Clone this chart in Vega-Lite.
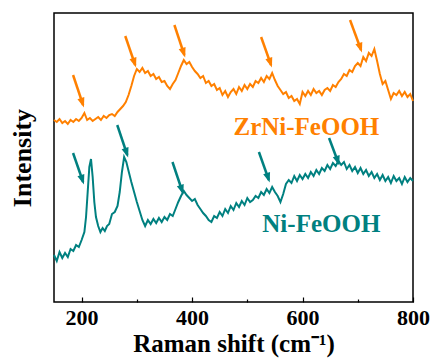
{
  "$schema": "https://vega.github.io/schema/vega-lite/v6.json",
  "width": 359,
  "height": 289,
  "autosize": {"type": "none"},
  "padding": {"left": 54, "top": 13, "right": 19, "bottom": 61},
  "background": "white",
  "config": {
    "view": {"stroke": "black", "strokeWidth": 1.5},
    "font": "Times New Roman, Liberation Serif, serif",
    "axis": {"grid": false, "labelFont": "Times New Roman, Liberation Serif, serif", "titleFont": "Times New Roman, Liberation Serif, serif", "labelColor": "black", "titleColor": "black", "labelFontWeight": "bold", "titleFontWeight": "bold"}
  },
  "datasets": {
    "zr": [
      {"x":150,"y":182},{"x":155,"y":180},{"x":160,"y":183},{"x":165,"y":179},{"x":170,"y":181},{"x":175,"y":178},{"x":180,"y":182},{"x":185,"y":180},{"x":190,"y":183},{"x":195,"y":181},
      {"x":200,"y":184},{"x":205,"y":189},{"x":210,"y":182},{"x":215,"y":184},{"x":220,"y":181},{"x":225,"y":183},{"x":230,"y":185},{"x":235,"y":182},{"x":240,"y":186},{"x":245,"y":184},
      {"x":250,"y":187},{"x":255,"y":188},{"x":260,"y":186},{"x":265,"y":190},{"x":270,"y":193},{"x":275,"y":196},{"x":280,"y":200},{"x":285,"y":207},{"x":290,"y":216},{"x":295,"y":226},
      {"x":300,"y":233},{"x":305,"y":230},{"x":310,"y":234},{"x":315,"y":229},{"x":320,"y":231},{"x":325,"y":226},{"x":330,"y":228},{"x":335,"y":223},{"x":340,"y":225},{"x":345,"y":220},
      {"x":350,"y":221},{"x":355,"y":216},{"x":360,"y":213},{"x":365,"y":218},{"x":370,"y":222},{"x":375,"y":229},{"x":380,"y":236},{"x":385,"y":242},{"x":390,"y":238},{"x":395,"y":240},
      {"x":400,"y":235},{"x":405,"y":231},{"x":410,"y":228},{"x":415,"y":224},{"x":420,"y":226},{"x":425,"y":219},{"x":430,"y":221},{"x":435,"y":216},{"x":440,"y":218},{"x":445,"y":212},
      {"x":450,"y":214},{"x":455,"y":207},{"x":460,"y":211},{"x":465,"y":205},{"x":470,"y":210},{"x":475,"y":213},{"x":480,"y":208},{"x":485,"y":215},{"x":490,"y":211},{"x":495,"y":217},
      {"x":500,"y":213},{"x":505,"y":218},{"x":510,"y":215},{"x":515,"y":221},{"x":520,"y":219},{"x":525,"y":224},{"x":530,"y":220},{"x":535,"y":226},{"x":540,"y":223},{"x":545,"y":229},
      {"x":550,"y":222},{"x":555,"y":216},{"x":560,"y":212},{"x":565,"y":208},{"x":570,"y":210},{"x":575,"y":204},{"x":580,"y":206},{"x":585,"y":201},{"x":590,"y":203},{"x":595,"y":198},
      {"x":600,"y":210},{"x":605,"y":206},{"x":610,"y":211},{"x":615,"y":207},{"x":620,"y":213},{"x":625,"y":209},{"x":630,"y":211},{"x":635,"y":207},{"x":640,"y":212},{"x":645,"y":214},
      {"x":650,"y":211},{"x":655,"y":217},{"x":660,"y":215},{"x":665,"y":220},{"x":670,"y":223},{"x":675,"y":228},{"x":680,"y":226},{"x":685,"y":232},{"x":690,"y":230},{"x":695,"y":236},
      {"x":700,"y":239},{"x":705,"y":236},{"x":710,"y":245},{"x":715,"y":241},{"x":720,"y":249},{"x":725,"y":246},{"x":730,"y":253},{"x":735,"y":241},{"x":740,"y":228},{"x":745,"y":218},
      {"x":750,"y":221},{"x":755,"y":212},{"x":760,"y":203},{"x":765,"y":209},{"x":770,"y":207},{"x":775,"y":211},{"x":780,"y":206},{"x":785,"y":210},{"x":790,"y":205},{"x":795,"y":208},{"x":800,"y":201}
    ],
    "ni": [
      {"x":150,"y":47},{"x":155,"y":41},{"x":160,"y":50},{"x":165,"y":44},{"x":170,"y":49},{"x":175,"y":45},{"x":180,"y":53},{"x":185,"y":51},{"x":190,"y":57},{"x":195,"y":55},
      {"x":200,"y":62},{"x":205,"y":70},{"x":208,"y":85},{"x":211,"y":110},{"x":214,"y":135},{"x":217,"y":143},{"x":220,"y":125},{"x":223,"y":100},{"x":226,"y":85},{"x":230,"y":76},
      {"x":234,"y":70},{"x":238,"y":74},{"x":242,"y":71},{"x":246,"y":76},{"x":250,"y":78},{"x":255,"y":88},{"x":260,"y":90},{"x":265,"y":96},{"x":269,"y":110},{"x":273,"y":130},
      {"x":277,"y":145},{"x":281,"y":140},{"x":285,"y":131},{"x":290,"y":120},{"x":295,"y":110},{"x":300,"y":100},{"x":305,"y":91},{"x":310,"y":82},{"x":315,"y":76},{"x":320,"y":82},
      {"x":325,"y":78},{"x":330,"y":83},{"x":335,"y":79},{"x":340,"y":84},{"x":345,"y":80},{"x":350,"y":85},{"x":355,"y":82},{"x":360,"y":88},{"x":365,"y":86},{"x":370,"y":93},
      {"x":375,"y":100},{"x":380,"y":106},{"x":385,"y":111},{"x":390,"y":107},{"x":395,"y":104},{"x":400,"y":101},{"x":405,"y":103},{"x":410,"y":97},{"x":415,"y":93},{"x":420,"y":89},
      {"x":425,"y":86},{"x":430,"y":82},{"x":435,"y":80},{"x":440,"y":86},{"x":445,"y":84},{"x":450,"y":90},{"x":455,"y":86},{"x":460,"y":93},{"x":465,"y":89},{"x":470,"y":96},
      {"x":475,"y":92},{"x":480,"y":99},{"x":485,"y":95},{"x":490,"y":101},{"x":495,"y":97},{"x":500,"y":104},{"x":505,"y":100},{"x":510,"y":102},{"x":515,"y":106},{"x":520,"y":104},
      {"x":525,"y":110},{"x":530,"y":107},{"x":535,"y":113},{"x":540,"y":109},{"x":545,"y":115},{"x":550,"y":110},{"x":555,"y":106},{"x":560,"y":100},{"x":565,"y":108},{"x":570,"y":118},
      {"x":575,"y":122},{"x":580,"y":119},{"x":585,"y":126},{"x":590,"y":121},{"x":595,"y":127},{"x":600,"y":123},{"x":605,"y":128},{"x":610,"y":124},{"x":615,"y":130},{"x":620,"y":126},
      {"x":625,"y":132},{"x":630,"y":128},{"x":635,"y":134},{"x":640,"y":131},{"x":645,"y":137},{"x":650,"y":133},{"x":655,"y":139},{"x":660,"y":136},{"x":665,"y":141},{"x":670,"y":137},
      {"x":675,"y":140},{"x":680,"y":133},{"x":685,"y":137},{"x":690,"y":131},{"x":695,"y":135},{"x":700,"y":129},{"x":705,"y":134},{"x":710,"y":128},{"x":715,"y":132},{"x":720,"y":126},
      {"x":725,"y":130},{"x":730,"y":124},{"x":735,"y":128},{"x":740,"y":122},{"x":745,"y":127},{"x":750,"y":121},{"x":755,"y":125},{"x":760,"y":119},{"x":765,"y":126},{"x":770,"y":121},
      {"x":775,"y":124},{"x":780,"y":118},{"x":785,"y":125},{"x":790,"y":120},{"x":795,"y":124},{"x":800,"y":121}
    ],
    "arrows": [
      {"c":"ZrNi","x":184.5,"y":227,"xe":202.7,"ye":197},
      {"c":"ZrNi","x":279,"y":266,"xe":297,"ye":237},
      {"c":"ZrNi","x":368,"y":277,"xe":386,"ye":247},
      {"c":"ZrNi","x":525,"y":265,"xe":543,"ye":237},
      {"c":"ZrNi","x":686,"y":282,"xe":706,"ye":252},
      {"c":"Ni","x":184.5,"y":149,"xe":202.7,"ye":120},
      {"c":"Ni","x":264.5,"y":177,"xe":282.7,"ye":147},
      {"c":"Ni","x":364.5,"y":140,"xe":382.7,"ye":110},
      {"c":"Ni","x":521,"y":150,"xe":539,"ye":122},
      {"c":"Ni","x":648,"y":164,"xe":665,"ye":139}
    ],
    "labels": [
      {"c":"ZrNi","label":"ZrNi-FeOOH","x":607,"y":167},
      {"c":"Ni","label":"Ni-FeOOH","x":634,"y":70}
    ]
  },
  "layer": [
    {
      "data": {"name": "zr"},
      "mark": {"type": "line", "color": "#FF8000", "strokeWidth": 2},
      "encoding": {
        "x": {"field": "x", "type": "quantitative", "scale": {"domain": [150, 800], "nice": false},
          "axis": {"title": "Raman shift (cm⁻¹)", "values": [200, 300, 400, 500, 600, 700, 800],
            "labelExpr": "datum.value % 200 === 0 ? datum.label : ''",
            "tickSize": {"condition": {"test": "datum.value % 200 === 0", "value": -5}, "value": -3},
            "tickColor": "black", "tickWidth": 1.2, "domain": false,
            "labelFontSize": 22, "labelPadding": 10, "titleFontSize": 25, "titlePadding": 3, "labelFlush": false}},
        "y": {"field": "y", "type": "quantitative", "scale": {"domain": [0, 289], "nice": false, "zero": false},
          "axis": {"title": "Intensity", "labels": false, "ticks": false, "domain": false, "titleFontSize": 26, "titlePadding": 19}}
      }
    },
    {
      "data": {"name": "ni"},
      "mark": {"type": "line", "color": "#008080", "strokeWidth": 2},
      "encoding": {
        "x": {"field": "x", "type": "quantitative"},
        "y": {"field": "y", "type": "quantitative"}
      }
    },
    {
      "data": {"name": "arrows"},
      "mark": {"type": "rule", "strokeWidth": 2.5},
      "encoding": {
        "x": {"field": "x", "type": "quantitative"},
        "y": {"field": "y", "type": "quantitative"},
        "x2": {"field": "xe"},
        "y2": {"field": "ye"},
        "color": {"field": "c", "type": "nominal", "scale": {"domain": ["ZrNi", "Ni"], "range": ["#FF8000", "#008080"]}, "legend": null}
      }
    },
    {
      "data": {"name": "arrows"},
      "mark": {"type": "point", "shape": "M0,0.6L-0.8,-1.6L0.8,-1.6Z", "filled": true, "opacity": 1, "size": 81, "angle": -18},
      "encoding": {
        "x": {"field": "xe", "type": "quantitative"},
        "y": {"field": "ye", "type": "quantitative"},
        "color": {"field": "c", "type": "nominal", "legend": null}
      }
    },
    {
      "data": {"name": "labels"},
      "mark": {"type": "text", "font": "Times New Roman, Liberation Serif, serif", "fontWeight": "bold", "fontSize": 25, "align": "center", "baseline": "alphabetic"},
      "encoding": {
        "x": {"field": "x", "type": "quantitative"},
        "y": {"field": "y", "type": "quantitative"},
        "text": {"field": "label"},
        "color": {"field": "c", "type": "nominal", "legend": null}
      }
    }
  ]
}
